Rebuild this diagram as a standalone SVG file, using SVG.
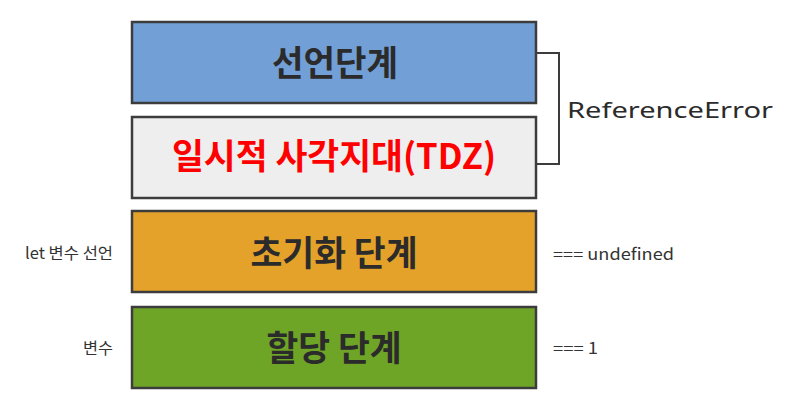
<svg xmlns="http://www.w3.org/2000/svg" width="785" height="415" viewBox="0 0 785 415">
<style>
.box{stroke:#3c3c3c;stroke-width:2.5}
.title{font-family:"Noto Sans CJK KR","Noto Sans",sans-serif;font-weight:bold;font-size:35px;fill:#2b2b2b;text-anchor:middle}
.side{font-family:"Noto Sans CJK KR","Noto Sans",sans-serif;font-size:16px;fill:#333}
.conn{fill:none;stroke:#3c3c3c;stroke-width:2}
</style>
<rect width="785" height="415" fill="#ffffff"/>
<g id="declare">
<rect class="box" x="132" y="22" width="404" height="81" fill="#729fd6"/>
<text class="title" x="335" y="76" textLength="126" lengthAdjust="spacingAndGlyphs">선언단계</text>
</g>
<g id="tdz">
<rect class="box" x="132" y="117" width="404" height="81" fill="#eeeeee"/>
<text class="title" x="334" y="169" textLength="324" lengthAdjust="spacingAndGlyphs" style="fill:#ff0000">일시적 사각지대(TDZ)</text>
</g>
<g id="init">
<rect class="box" x="132" y="211" width="404" height="81" fill="#e5a22a"/>
<text class="title" x="334" y="266" textLength="167" lengthAdjust="spacingAndGlyphs">초기화 단계</text>
<text class="side" x="113" y="259" text-anchor="end" textLength="88" lengthAdjust="spacingAndGlyphs">let 변수 선언</text>
<text class="side" x="553" y="260" textLength="121" lengthAdjust="spacingAndGlyphs">=== undefined</text>
</g>
<g id="assign">
<rect class="box" x="132" y="307" width="404" height="81" fill="#6fa527"/>
<text class="title" x="334" y="361" textLength="135" lengthAdjust="spacingAndGlyphs">할당 단계</text>
<text class="side" x="113" y="354" text-anchor="end" textLength="30" lengthAdjust="spacingAndGlyphs">변수</text>
<text class="side" x="553" y="354" textLength="45" lengthAdjust="spacingAndGlyphs">=== 1</text>
</g>
<g id="connectors">
<path class="conn" d="M536 53 H559 V164 H536"/>
<text x="567" y="118" textLength="206" lengthAdjust="spacingAndGlyphs" style="font-family:'Noto Sans','Noto Sans CJK KR',sans-serif;font-size:22px;fill:#2b2b2b">ReferenceError</text>
</g>
</svg>
